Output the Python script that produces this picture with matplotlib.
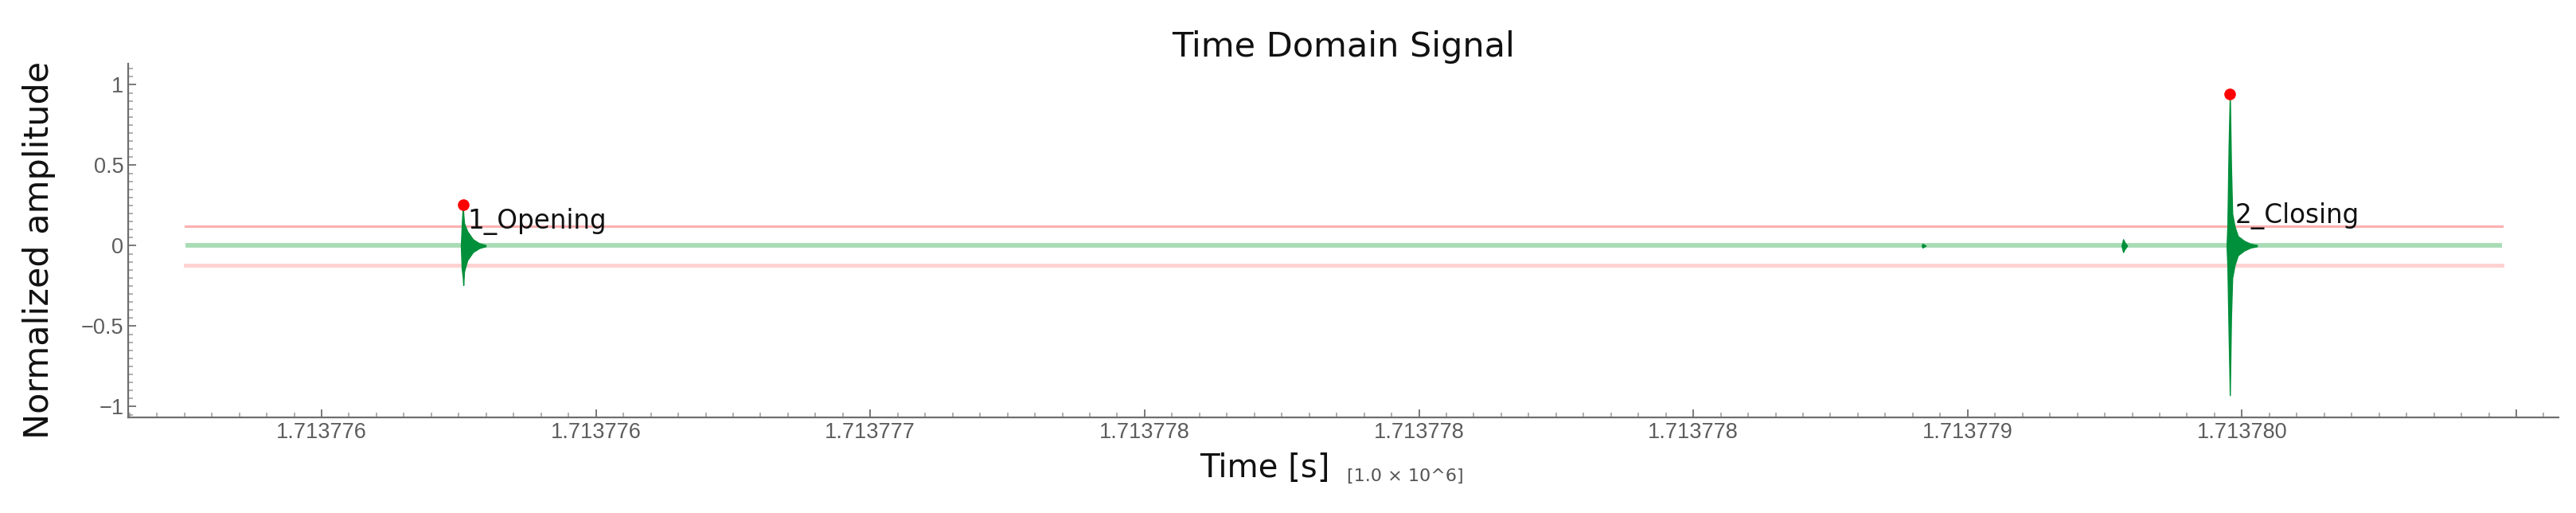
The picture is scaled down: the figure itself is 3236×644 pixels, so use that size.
"""
plot.py
-------
Time domain signal of one breaker operation: normalised amplitude vs time,
with the detection thresholds, the two detected events (red dots) and their
labels. Saves out.png.
"""

import matplotlib
matplotlib.use("Agg")
import matplotlib.pyplot as plt
from matplotlib.ticker import FixedLocator, MultipleLocator

# ---- data ------------------------------------------------------------------
# time axis in seconds, shown as [1.0 x 10^6]
X_TICKS = [1713776.0, 1713776.5, 1713777.0, 1713777.5, 1713778.0,
           1713778.5, 1713779.0, 1713779.5, 1713780.0]
X_TICK_LABELS = ["1.713776", "1.713776", "1.713777", "1.713778", "1.713778",
                 "1.713778", "1.713779", "1.713780", ""]
Y_TICKS = [-1.0, -0.5, 0.0, 0.5, 1.0]
Y_TICK_LABELS = ["\u22121", "\u22120.5", "0", "0.5", "1"]

# quiet part of the recording
BASE_T = [1713775.7519, 1713779.9742]
BASE_V = [0.0, 0.0]

# detection thresholds
THRESH_T = [1713775.7519, 1713779.9742]
THRESH_HI = 0.12
THRESH_LO = -0.12

# envelope of the opening burst
OPEN_T = [1713776.2539, 1713776.2554, 1713776.2575, 1713776.2583, 1713776.2597,
          1713776.2655, 1713776.2757, 1713776.2873, 1713776.2989]
OPEN_HI = [0.0, 0.12, 0.255, 0.20, 0.14, 0.09, 0.04, 0.015, 0.004]
OPEN_LO = [0.0, -0.14, -0.20, -0.245, -0.16, -0.09, -0.04, -0.015, -0.004]

# envelope of the closing burst
CLOSE_T = [1713779.4721, 1713779.4736, 1713779.4758, 1713779.4780, 1713779.4801,
           1713779.4823, 1713779.4867, 1713779.4925, 1713779.5041, 1713779.5157,
           1713779.5273]
CLOSE_HI = [0.0, 0.13, 0.62, 0.945, 0.50, 0.20, 0.12, 0.06, 0.03, 0.012, 0.004]
CLOSE_LO = [0.0, -0.13, -0.55, -0.93, -0.45, -0.20, -0.12, -0.06, -0.03, -0.012, -0.004]

# two small blips before the closing
BLIP1_T = [1713778.9164, 1713778.9179, 1713778.9208, 1713778.9237]
BLIP1_HI = [0.0, 0.012, 0.006, 0.0]
BLIP1_LO = [0.0, -0.012, -0.006, 0.0]
BLIP2_T = [1713779.2806, 1713779.2835, 1713779.2864, 1713779.2908]
BLIP2_HI = [0.0, 0.04, 0.02, 0.0]
BLIP2_LO = [0.0, -0.04, -0.02, 0.0]

# detected events
EVENT_T = [1713776.2575, 1713779.4780]
EVENT_V = [0.255, 0.945]
EVENT_NAMES = ["1_Opening", "2_Closing"]
LABEL_T = [1713776.2660, 1713779.4870]
LABEL_V = [0.235, 0.27]

GREEN = "#008f3a"
AXIS_GREY = "#6e6e6e"


def main():
    plt.rcParams["font.family"] = ["DejaVu Sans"]
    fig = plt.figure(figsize=(32.37, 6.44), dpi=100)
    ax = fig.add_axes([0.04974, 0.18634, 0.94316, 0.68944])

    # thresholds
    ax.plot(THRESH_T, [THRESH_HI, THRESH_HI], color="#ffb0b0", lw=2.2, zorder=1)
    ax.plot(THRESH_T, [THRESH_LO, THRESH_LO], color="#ffd2d2", lw=3.6, zorder=1)

    # signal
    ax.plot(BASE_T, BASE_V, color="#a8dcb5", lw=4.2, solid_capstyle="butt", zorder=2)
    for t, hi, lo in [(OPEN_T, OPEN_HI, OPEN_LO), (CLOSE_T, CLOSE_HI, CLOSE_LO),
                      (BLIP1_T, BLIP1_HI, BLIP1_LO), (BLIP2_T, BLIP2_HI, BLIP2_LO)]:
        ax.fill_between(t, lo, hi, color=GREEN, lw=1.0, edgecolor=GREEN, zorder=3)

    # events
    ax.plot(EVENT_T, EVENT_V, "o", color="#ff0000", ms=10.5, mec="none", zorder=5)
    for t, v, name in zip(LABEL_T, LABEL_V, EVENT_NAMES):
        ax.text(t, v, name, ha="left", va="top", fontsize=23.5, color="#111111", zorder=6)

    ax.set_xlim(1713775.6474, 1713780.0769)
    ax.set_ylim(-1.067, 1.131)

    ax.xaxis.set_major_locator(FixedLocator(X_TICKS))
    ax.set_xticklabels(X_TICK_LABELS)
    ax.xaxis.set_minor_locator(MultipleLocator(0.05))
    ax.yaxis.set_major_locator(FixedLocator(Y_TICKS))
    ax.set_yticklabels(Y_TICK_LABELS)
    ax.yaxis.set_minor_locator(MultipleLocator(0.05))

    for side in ("top", "right"):
        ax.spines[side].set_visible(False)
    for side in ("left", "bottom"):
        ax.spines[side].set_color(AXIS_GREY)
        ax.spines[side].set_linewidth(1.6)

    ax.tick_params(which="major", direction="in", length=7, width=1.3, color=AXIS_GREY,
                   labelcolor="#5c5c5c", labelsize=19.5, pad=4,
                   labelfontfamily="Liberation Sans")
    ax.tick_params(which="minor", direction="in", length=4.5, width=1.1, color="#9a9a9a")

    ax.set_title("Time Domain Signal", fontsize=31, pad=6, color="#111111")
    ax.set_ylabel("Normalized amplitude", fontsize=31, color="#111111")
    ax.yaxis.set_label_coords(-0.0298, 0.473)
    fig.text(1507 / 3237, 1 - 588 / 644, "Time [s]", ha="left", va="center",
             fontsize=29, color="#111111")
    fig.text(1692 / 3237, 1 - 598 / 644, "[1.0 \u00d7 10^6]", ha="left", va="center",
             fontsize=16, color="#555555")

    fig.savefig("out.png", dpi=100)
    plt.close(fig)
    print("saved out.png")


if __name__ == "__main__":
    main()
